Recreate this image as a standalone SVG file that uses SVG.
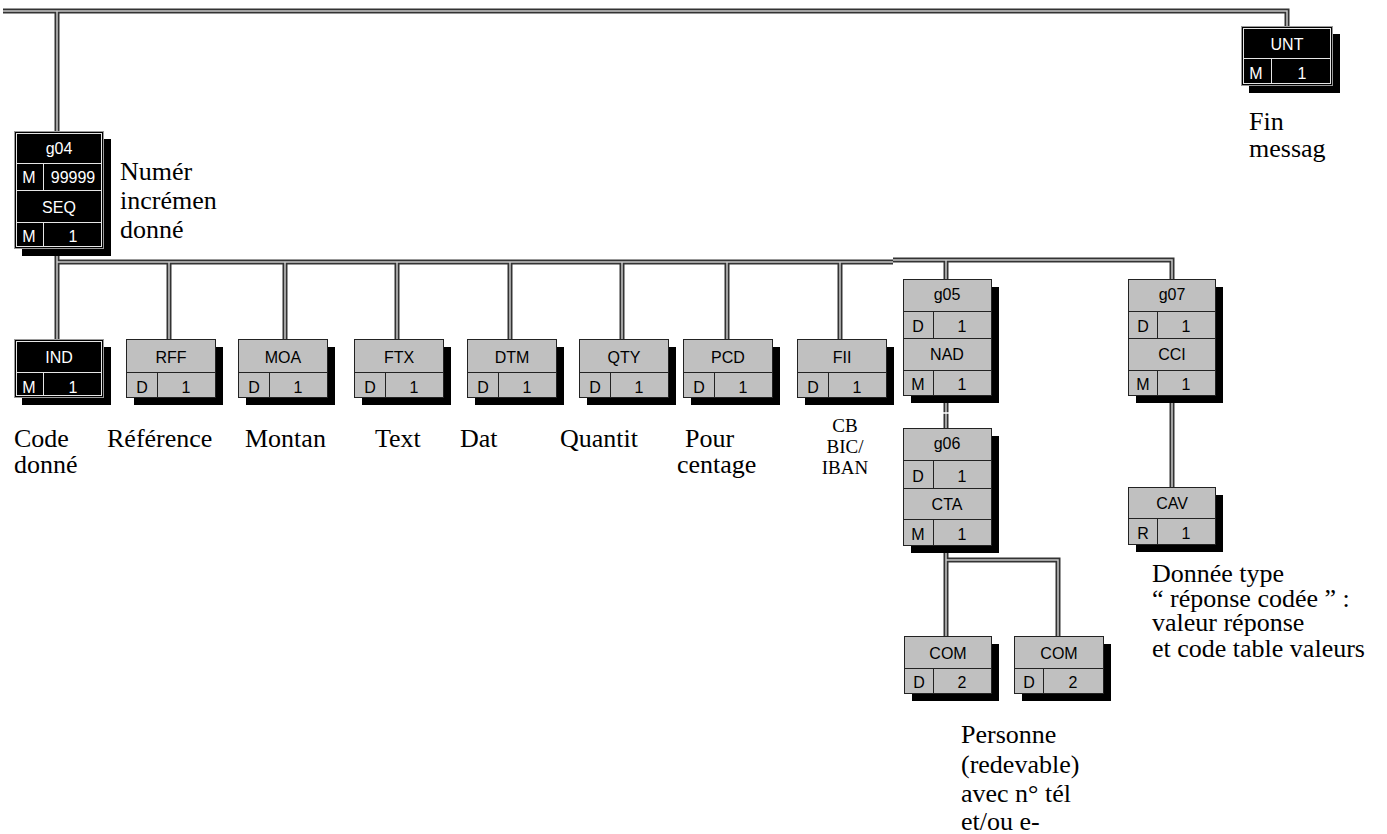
<svg xmlns="http://www.w3.org/2000/svg" width="1387" height="834" viewBox="0 0 1387 834">
<style>
.sh{fill:#000}
.bk{fill:#000;stroke:#9a9a9a;stroke-width:1}
.bki{fill:none;stroke:#e6e6e6;stroke-width:1}
.gr{fill:#c0c0c0;stroke:#222;stroke-width:1}
.lw{stroke:#e6e6e6;stroke-width:1}
.ld{stroke:#222;stroke-width:1}
.tw{fill:#fff;font-family:"Liberation Sans",Arial,sans-serif;font-size:16px;text-anchor:middle}
.tb{fill:#000;font-family:"Liberation Sans",Arial,sans-serif;font-size:16px;text-anchor:middle}
.lab{font-family:"Liberation Serif","Times New Roman",serif;font-size:26px;fill:#000}
.sm{font-family:"Liberation Serif","Times New Roman",serif;font-size:19px;fill:#000;text-anchor:middle}
.c1{stroke:#333;stroke-width:5;fill:none}
.c2{stroke:#c8c8c8;stroke-width:1.5;fill:none}
</style>
<defs>
<path id="conn" d="M3,11 H1287 V26 M57,11 V131 M57,248 V262 H893 M893,260 H1172 V279 M57,262 V339 M169,262 V339 M285,262 V339 M397,262 V339 M510,262 V339 M622,262 V339 M727,262 V339 M840,262 V339 M946,260 V279 M946,395 V428 M1172,395 V487 M946,545 V560 H1058 V636 M946,560 V636"/>
</defs>
<g id="connectors">
<use href="#conn" class="c1"/>
<use href="#conn" class="c2"/>
<line x1="942" y1="413" x2="950" y2="413" stroke="#fff" stroke-width="1.5"/>
</g>

<g id="UNT">
<rect class="sh" x="1249" y="34" width="91" height="59"/>
<rect class="bk" x="1241.5" y="26.5" width="91" height="59"/>
<rect class="bki" x="1243.5" y="28.5" width="87" height="55"/>
<line class="lw" x1="1243" y1="58.5" x2="1331" y2="58.5"/>
<line class="lw" x1="1271.5" y1="58" x2="1271.5" y2="84"/>
<text class="tw" x="1287" y="50">UNT</text>
<text class="tw" x="1256" y="79">M</text>
<text class="tw" x="1302" y="79">1</text>
</g>

<g id="g04">
<rect class="sh" x="22" y="139" width="89" height="117"/>
<rect class="bk" x="14.5" y="131.5" width="89" height="117"/>
<rect class="bki" x="16.5" y="133.5" width="85" height="113"/>
<line class="lw" x1="16" y1="163.5" x2="102" y2="163.5"/>
<line class="lw" x1="16" y1="190.5" x2="102" y2="190.5"/>
<line class="lw" x1="16" y1="222.5" x2="102" y2="222.5"/>
<line class="lw" x1="43.5" y1="163" x2="43.5" y2="190"/>
<line class="lw" x1="43.5" y1="222" x2="43.5" y2="247"/>
<text class="tw" x="59" y="154">g04</text>
<text class="tw" x="29" y="183">M</text>
<text class="tw" x="73" y="183">99999</text>
<text class="tw" x="59" y="213">SEQ</text>
<text class="tw" x="29" y="242">M</text>
<text class="tw" x="73" y="242">1</text>
</g>

<g id="IND">
<rect class="sh" x="22" y="347" width="89" height="58"/>
<rect class="bk" x="14.5" y="339.5" width="89" height="58"/>
<rect class="bki" x="16.5" y="341.5" width="85" height="54"/>
<line class="lw" x1="16" y1="372.5" x2="102" y2="372.5"/>
<line class="lw" x1="43.5" y1="372" x2="43.5" y2="396"/>
<text class="tw" x="59" y="363">IND</text>
<text class="tw" x="29" y="393">M</text>
<text class="tw" x="73" y="393">1</text>
</g>

<g id="RFF">
<rect class="sh" x="134" y="347" width="89" height="58"/>
<rect class="gr" x="126.5" y="339.5" width="89" height="58"/>
<line class="ld" x1="126" y1="372.5" x2="215" y2="372.5"/>
<line class="ld" x1="157.5" y1="372" x2="157.5" y2="397"/>
<text class="tb" x="171" y="363">RFF</text>
<text class="tb" x="142" y="393">D</text>
<text class="tb" x="186" y="393">1</text>
</g>

<g id="MOA">
<rect class="sh" x="246" y="347" width="89" height="58"/>
<rect class="gr" x="238.5" y="339.5" width="89" height="58"/>
<line class="ld" x1="238" y1="372.5" x2="327" y2="372.5"/>
<line class="ld" x1="269.5" y1="372" x2="269.5" y2="397"/>
<text class="tb" x="283" y="363">MOA</text>
<text class="tb" x="254" y="393">D</text>
<text class="tb" x="298" y="393">1</text>
</g>

<g id="FTX">
<rect class="sh" x="362" y="347" width="89" height="58"/>
<rect class="gr" x="354.5" y="339.5" width="89" height="58"/>
<line class="ld" x1="354" y1="372.5" x2="443" y2="372.5"/>
<line class="ld" x1="385.5" y1="372" x2="385.5" y2="397"/>
<text class="tb" x="399" y="363">FTX</text>
<text class="tb" x="370" y="393">D</text>
<text class="tb" x="414" y="393">1</text>
</g>

<g id="DTM">
<rect class="sh" x="475" y="347" width="89" height="58"/>
<rect class="gr" x="467.5" y="339.5" width="89" height="58"/>
<line class="ld" x1="467" y1="372.5" x2="556" y2="372.5"/>
<line class="ld" x1="498.5" y1="372" x2="498.5" y2="397"/>
<text class="tb" x="512" y="363">DTM</text>
<text class="tb" x="483" y="393">D</text>
<text class="tb" x="527" y="393">1</text>
</g>

<g id="QTY">
<rect class="sh" x="587" y="347" width="89" height="58"/>
<rect class="gr" x="579.5" y="339.5" width="89" height="58"/>
<line class="ld" x1="579" y1="372.5" x2="668" y2="372.5"/>
<line class="ld" x1="610.5" y1="372" x2="610.5" y2="397"/>
<text class="tb" x="624" y="363">QTY</text>
<text class="tb" x="595" y="393">D</text>
<text class="tb" x="639" y="393">1</text>
</g>

<g id="PCD">
<rect class="sh" x="691" y="347" width="89" height="58"/>
<rect class="gr" x="683.5" y="339.5" width="89" height="58"/>
<line class="ld" x1="683" y1="372.5" x2="772" y2="372.5"/>
<line class="ld" x1="714.5" y1="372" x2="714.5" y2="397"/>
<text class="tb" x="728" y="363">PCD</text>
<text class="tb" x="699" y="393">D</text>
<text class="tb" x="743" y="393">1</text>
</g>

<g id="FII">
<rect class="sh" x="805" y="347" width="89" height="58"/>
<rect class="gr" x="797.5" y="339.5" width="89" height="58"/>
<line class="ld" x1="797" y1="372.5" x2="886" y2="372.5"/>
<line class="ld" x1="828.5" y1="372" x2="828.5" y2="397"/>
<text class="tb" x="842" y="363">FII</text>
<text class="tb" x="813" y="393">D</text>
<text class="tb" x="857" y="393">1</text>
</g>

<g id="g05">
<rect class="sh" x="911" y="287" width="88" height="116"/>
<rect class="gr" x="903.5" y="279.5" width="88" height="116"/>
<line class="ld" x1="903" y1="311.5" x2="991" y2="311.5"/>
<line class="ld" x1="903" y1="338.5" x2="991" y2="338.5"/>
<line class="ld" x1="903" y1="370.5" x2="991" y2="370.5"/>
<line class="ld" x1="933.5" y1="311" x2="933.5" y2="338"/>
<line class="ld" x1="933.5" y1="370" x2="933.5" y2="395"/>
<text class="tb" x="947" y="300">g05</text>
<text class="tb" x="918" y="332">D</text>
<text class="tb" x="962" y="332">1</text>
<text class="tb" x="947" y="360">NAD</text>
<text class="tb" x="918" y="390">M</text>
<text class="tb" x="962" y="390">1</text>
</g>

<g id="g06">
<rect class="sh" x="911" y="436" width="88" height="117"/>
<rect class="gr" x="903.5" y="428.5" width="88" height="117"/>
<line class="ld" x1="903" y1="460.5" x2="991" y2="460.5"/>
<line class="ld" x1="903" y1="488.5" x2="991" y2="488.5"/>
<line class="ld" x1="903" y1="519.5" x2="991" y2="519.5"/>
<line class="ld" x1="933.5" y1="460" x2="933.5" y2="488"/>
<line class="ld" x1="933.5" y1="519" x2="933.5" y2="545"/>
<text class="tb" x="947" y="449">g06</text>
<text class="tb" x="918" y="482">D</text>
<text class="tb" x="962" y="482">1</text>
<text class="tb" x="947" y="510">CTA</text>
<text class="tb" x="918" y="540">M</text>
<text class="tb" x="962" y="540">1</text>
</g>

<g id="g07">
<rect class="sh" x="1136" y="287" width="87" height="116"/>
<rect class="gr" x="1128.5" y="279.5" width="87" height="116"/>
<line class="ld" x1="1128" y1="311.5" x2="1215" y2="311.5"/>
<line class="ld" x1="1128" y1="338.5" x2="1215" y2="338.5"/>
<line class="ld" x1="1128" y1="370.5" x2="1215" y2="370.5"/>
<line class="ld" x1="1157.5" y1="311" x2="1157.5" y2="338"/>
<line class="ld" x1="1157.5" y1="370" x2="1157.5" y2="395"/>
<text class="tb" x="1172" y="300">g07</text>
<text class="tb" x="1143" y="332">D</text>
<text class="tb" x="1186" y="332">1</text>
<text class="tb" x="1172" y="360">CCI</text>
<text class="tb" x="1143" y="390">M</text>
<text class="tb" x="1186" y="390">1</text>
</g>

<g id="CAV">
<rect class="sh" x="1136" y="495" width="87" height="57"/>
<rect class="gr" x="1128.5" y="487.5" width="87" height="57"/>
<line class="ld" x1="1128" y1="518.5" x2="1215" y2="518.5"/>
<line class="ld" x1="1157.5" y1="518" x2="1157.5" y2="544"/>
<text class="tb" x="1172" y="509">CAV</text>
<text class="tb" x="1143" y="539">R</text>
<text class="tb" x="1186" y="539">1</text>
</g>

<g id="COM1">
<rect class="sh" x="912" y="644" width="87" height="57"/>
<rect class="gr" x="904.5" y="636.5" width="87" height="57"/>
<line class="ld" x1="904" y1="668.5" x2="991" y2="668.5"/>
<line class="ld" x1="933.5" y1="668" x2="933.5" y2="693"/>
<text class="tb" x="948" y="659">COM</text>
<text class="tb" x="919" y="688">D</text>
<text class="tb" x="962" y="688">2</text>
</g>

<g id="COM2">
<rect class="sh" x="1022" y="644" width="89" height="57"/>
<rect class="gr" x="1014.5" y="636.5" width="89" height="57"/>
<line class="ld" x1="1014" y1="668.5" x2="1103" y2="668.5"/>
<line class="ld" x1="1043.5" y1="668" x2="1043.5" y2="693"/>
<text class="tb" x="1059" y="659">COM</text>
<text class="tb" x="1029" y="688">D</text>
<text class="tb" x="1073" y="688">2</text>
</g>

<g id="labels">
<text class="lab" x="120" y="180">Numér</text>
<text class="lab" x="120" y="209">incrémen</text>
<text class="lab" x="120" y="238">donné</text>
<text class="lab" x="1249" y="130">Fin</text>
<text class="lab" x="1249" y="157">messag</text>
<text class="lab" x="14" y="447">Code</text>
<text class="lab" x="14" y="473">donné</text>
<text class="lab" x="107" y="447">Référence</text>
<text class="lab" x="245" y="447">Montan</text>
<text class="lab" x="375" y="447">Text</text>
<text class="lab" x="460" y="447">Dat</text>
<text class="lab" x="560" y="447">Quantit</text>
<text class="lab" x="685" y="447">Pour</text>
<text class="lab" x="677" y="473">centage</text>
<text class="sm" x="845" y="432">CB</text>
<text class="sm" x="845" y="453">BIC/</text>
<text class="sm" x="845" y="474">IBAN</text>
<text class="lab" x="1152" y="582">Donnée type</text>
<text class="lab" x="1152" y="607">“ réponse codée ” :</text>
<text class="lab" x="1152" y="631">valeur réponse</text>
<text class="lab" x="1152" y="657">et code table valeurs</text>
<text class="lab" x="961" y="743">Personne</text>
<text class="lab" x="961" y="773">(redevable)</text>
<text class="lab" x="961" y="802">avec n° tél</text>
<text class="lab" x="961" y="830">et/ou e-</text>
</g>
</svg>
